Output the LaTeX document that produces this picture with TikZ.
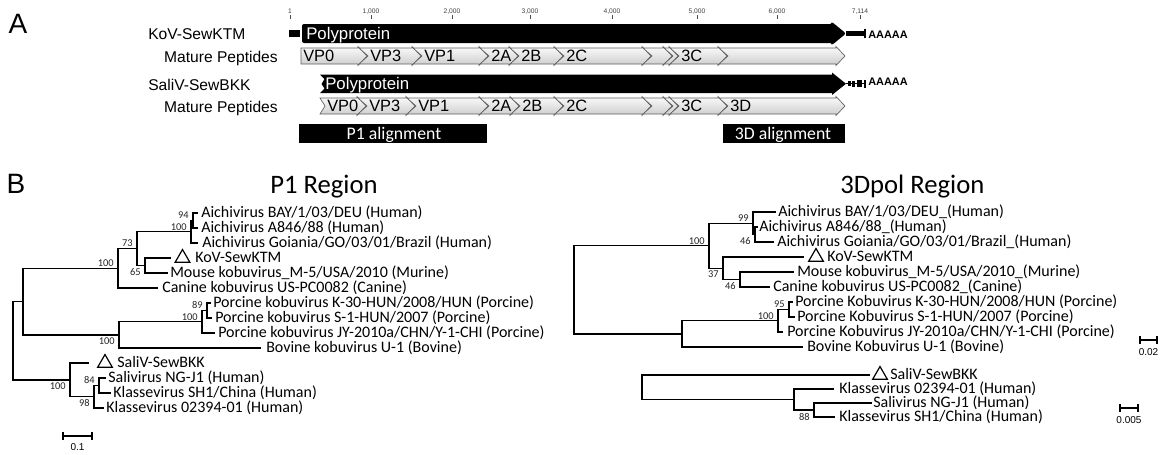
\documentclass[tikz,border=0pt]{standalone}
\usepackage{fontspec}
\setmainfont{Liberation Sans}
\newfontfamily\calib{Carlito}
\usetikzlibrary{shapes.geometric}
% peptide segment: #1 name, #2 left x, #3 tip x, #4 mid y, #5 notch depth, #6 label
\newcommand\pepseg[6]{%
  \path[pep] (#2,{#4-8}) -- ({#3-9},{#4-8}) -- ({#3-9},{#4-9.5}) -- (#3,#4) -- ({#3-9},{#4+9.5}) -- ({#3-9},{#4+8}) -- (#2,{#4+8}) -- ({#2+#5},#4) -- cycle;
  \node[peplab] (#1) at ({#2+#5+2},{#4+5.5}) {#6};}
\begin{document}
\begin{tikzpicture}[x=0.75pt,y=-0.75pt,
  tree/.style={line width=1pt,line cap=rect},
  lab/.style={font=\calib\fontsize{12}{14}\selectfont, anchor=base west, inner sep=0pt, yshift=-3.6pt},
  bt/.style={font=\calib\fontsize{7.8}{9}\selectfont, inner sep=0pt, text=black!85},
  btu/.style={bt, anchor=south east, xshift=-3pt, yshift=1pt},
  btd/.style={bt, anchor=north east, xshift=-3pt, yshift=-2pt},
  tri/.style={regular polygon, regular polygon sides=3, draw, line width=0.9pt, inner sep=0pt, minimum size=12.7pt},
  pep/.style={draw=gray!75!black, line width=0.5pt, top color=gray!3, bottom color=gray!40},
  peplab/.style={anchor=base west, inner sep=0pt, font=\fontsize{12.3}{14}\selectfont},
  gl/.style={inner sep=0pt, font=\fontsize{11.7}{13}\selectfont},
  pl/.style={inner sep=0pt, font=\fontsize{12.6}{14}\selectfont, text=white, anchor=base west},
  aaa/.style={inner sep=0pt, font=\bfseries\fontsize{8.2}{9}\selectfont, anchor=base west},
  tick/.style={inner sep=0pt, font=\fontsize{5}{6}\selectfont, text=black!75, anchor=base},
  title/.style={inner sep=0pt, font=\calib\fontsize{20}{24}\selectfont, anchor=base west},
  alab/.style={inner sep=0pt, font=\calib\fontsize{13.3}{15}\selectfont, text=white, anchor=base},
  sbl/.style={inner sep=0pt, font=\fontsize{7.5}{9}\selectfont, anchor=base}]
\useasboundingbox (0,0) rectangle (1161,454);

% ---------- Panel A ----------
\node[font=\fontsize{21}{24}\selectfont, anchor=base, inner sep=0pt] (lblA) at (18,33) {A};

\foreach \x/\t [count=\i] in {290/1, 371/{1,000}, 452/{2,000}, 530/{3,000}, 612/{4,000}, 697/{5,000}, 777/{6,000}, 860/{7,114}}{
  \node[tick] (tk\i) at (\x,13) {\t};
  \draw[line width=0.4pt, black!70] (\x,15) -- (\x,18.5);
}

% KoV row
\node[gl, anchor=base west] (kovname) at (148,39.5) {KoV-SewKTM};
\fill (289,30) rectangle (300,37);
\fill[rounded corners=1.5pt] (302,24) -- (832,24) -- (832,22) -- (846,33.5) -- (832,45) -- (832,43) -- (302,43) -- cycle;
\node[pl] (kovpoly) at (306,39.5) {Polyprotein};
\fill (846,31) rectangle (864,36);
\fill (863.5,29) rectangle (866,38);
\node[aaa] (kova) at (868,38.3) {AAAAA};

\node[gl, anchor=base east] (mp1) at (278,62) {Mature Peptides};
\pepseg{k1}{301}{367}{56}{0}{VP0}
\pepseg{k2}{359}{421}{56}{9}{VP3}
\pepseg{k3}{413}{488}{56}{9}{VP1}
\pepseg{k4}{480}{518}{56}{9}{2A}
\pepseg{k5}{510}{563}{56}{9}{2B}
\pepseg{k6}{555}{651}{56}{9}{2C}
\pepseg{k7}{643}{672}{56}{9}{}
\pepseg{k8}{664}{678}{56}{9}{}
\pepseg{k9}{670}{727}{56}{9}{3C}
\pepseg{k10}{719}{845}{56}{9}{}

% SaliV row
\node[gl, anchor=base west] (salname) at (148,90) {SaliV-SewBKK};
\fill (320,74.5) -- (832,74.5) -- (832,72.5) -- (846,83.75) -- (832,95) -- (832,93) -- (320,93) -- (324.5,88.5) -- (321.5,84) -- (324.5,79) -- cycle;
\node[pl] (salpoly) at (325,89.5) {Polyprotein};
\draw[line width=0.6pt] (846,83.5) -- (865,83.5);
\fill (848,81) rectangle (850.5,86);
\fill (852,80.5) rectangle (855,86.5);
\fill (856.5,80) rectangle (861.5,87);
\fill (863.5,79.5) rectangle (866,87.5);
\node[aaa] (sala) at (868,85.7) {AAAAA};

\node[gl, anchor=base east] (mp2) at (278,112) {Mature Peptides};
\pepseg{s1}{320}{366}{106}{5}{VP0}
\pepseg{s2}{358}{415}{106}{9}{VP3}
\pepseg{s3}{407}{488}{106}{9}{VP1}
\pepseg{s4}{480}{519}{106}{9}{2A}
\pepseg{s5}{511}{563}{106}{9}{2B}
\pepseg{s6}{555}{651}{106}{9}{2C}
\pepseg{s7}{643}{672}{106}{9}{}
\pepseg{s8}{664}{678}{106}{9}{}
\pepseg{s9}{670}{727}{106}{9}{3C}
\pepseg{s10}{719}{845}{106}{9}{3D}

% alignment bars
\fill (299,124) rectangle (487,143);
\node[alab] (p1al) at (394,139) {P1 alignment};
\fill (723,124) rectangle (845,143);
\node[alab] (d3al) at (783,139) {3D alignment};

% ---------- Panel B ----------
\node[font=\fontsize{21}{24}\selectfont, anchor=base, inner sep=0pt] (lblB) at (16,193) {B};
\node[title] (t1) at (270,193) {P1 Region};
\node[title] (t2) at (840,193) {3Dpol Region};

% ----- P1 tree -----
\coordinate (pBAY) at (197,213);
\coordinate (pA846) at (197,228);
\coordinate (pGoi) at (197,243);
\coordinate (pKoV) at (170,258);
\coordinate (pMou) at (167,273);
\coordinate (pCan) at (157,288);
\coordinate (pK30) at (210,303);
\coordinate (pS1) at (211,318);
\coordinate (pJY) at (214,333);
\coordinate (pBov) at (260,348);
\coordinate (pSal) at (88,363);
\coordinate (pSNG) at (105,378);
\coordinate (pSH1) at (110,393);
\coordinate (pK02) at (103,408);
\coordinate (p94) at (193,220.5);
\coordinate (p100a) at (191,231.75);
\coordinate (p65) at (145,265.5);
\coordinate (p73) at (137,248.6);
\coordinate (pA) at (118,268.3);
\coordinate (p89) at (207,310.5);
\coordinate (p100p) at (202,321.75);
\coordinate (pB) at (119,334.9);
\coordinate (pK) at (23,301.6);
\coordinate (p84) at (99,385.5);
\coordinate (p98) at (94,396.75);
\coordinate (pS) at (70,379.9);
\coordinate (proot) at (13,340.75);

\draw[tree] (p94) |- (pBAY) (p94) |- (pA846)
  (p100a) |- (p94) (p100a) |- (pGoi)
  (p65) |- (pKoV) (p65) |- (pMou)
  (p73) |- (p100a) (p73) |- (p65)
  (pA) |- (p73) (pA) |- (pCan)
  (p89) |- (pK30) (p89) |- (pS1)
  (p100p) |- (p89) (p100p) |- (pJY)
  (pB) |- (p100p) (pB) |- (pBov)
  (pK) |- (pA) (pK) |- (pB)
  (p84) |- (pSNG) (p84) |- (pSH1)
  (p98) |- (p84) (p98) |- (pK02)
  (pS) |- (pSal) (pS) |- (p98)
  (proot) |- (pK) (proot) |- (pS);

\node[tri] (triP1K) at (182.5,258) {};
\node[tri] (triP1S) at (105,363) {};

\node[lab] (lpBAY) at (201,213) {Aichivirus BAY/1/03/DEU (Human)};
\node[lab] (lpA846) at (201,228) {Aichivirus A846/88 (Human)};
\node[lab] (lpGoi) at (202,243) {Aichivirus Goiania/GO/03/01/Brazil (Human)};
\node[lab] (lpKoV) at (195,258) {KoV-SewKTM};
\node[lab] (lpMou) at (170,273) {Mouse kobuvirus\_M-5/USA/2010 (Murine)};
\node[lab] (lpCan) at (162,288) {Canine kobuvirus US-PC0082 (Canine)};
\node[lab] (lpK30) at (213,303) {Porcine kobuvirus K-30-HUN/2008/HUN (Porcine)};
\node[lab] (lpS1) at (215,318) {Porcine kobuvirus S-1-HUN/2007 (Porcine)};
\node[lab] (lpJY) at (218,333) {Porcine kobuvirus JY-2010a/CHN/Y-1-CHI (Porcine)};
\node[lab] (lpBov) at (266,348) {Bovine kobuvirus U-1 (Bovine)};
\node[lab] (lpSal) at (117,363) {SaliV-SewBKK};
\node[lab] (lpSNG) at (108,378) {Salivirus NG-J1 (Human)};
\node[lab] (lpSH1) at (113,393) {Klassevirus SH1/China (Human)};
\node[lab] (lpK02) at (106,408) {Klassevirus 02394-01 (Human)};

\node[btu] (bp94) at (p94) {94};
\node[btu] (bp100a) at (p100a) {100};
\node[btu] (bp73) at (p73) {73};
\node[btd] (bp65) at (p65) {65};
\node[btu] (bpA) at (pA) {100};
\node[btu] (bp89) at (p89) {89};
\node[btu] (bp100p) at (p100p) {100};
\node[btd] (bpB) at (pB) {100};
\node[btd] (bpS) at (pS) {100};
\node[btu] (bp84) at (p84) {84};
\node[btd] (bp98) at (p98) {98};

\coordinate (sb1a) at (63,436);
\coordinate (sb1b) at (92,436);
\draw[line width=0.9pt] (sb1a) -- (sb1b);
\draw[line width=0.9pt] ([yshift=3pt]sb1a) -- ([yshift=-3pt]sb1a) ([yshift=3pt]sb1b) -- ([yshift=-3pt]sb1b);
\node[sbl] (sbt1) at (77.5,450) {0.1};

% ----- 3Dpol tree -----
\coordinate (qBAY) at (775,212);
\coordinate (qA846) at (757,227);
\coordinate (qGoi) at (773,242);
\coordinate (qKoV) at (803,257);
\coordinate (qMou) at (793,272);
\coordinate (qCan) at (769,287);
\coordinate (qK30) at (792,302);
\coordinate (qS1) at (794,317);
\coordinate (qJY) at (782,332);
\coordinate (qBov) at (802,347);
\coordinate (q46a) at (755,234.5);
\coordinate (q99) at (753,223.25);
\coordinate (q46b) at (740,279.5);
\coordinate (q37) at (723,268.25);
\coordinate (q100) at (709,245.75);
\coordinate (q95) at (789,309.5);
\coordinate (q100p) at (778,320.75);
\coordinate (qPB) at (682,333.9);
\coordinate (qroot) at (574,289.8);

\draw[tree] (q46a) |- (qA846) (q46a) |- (qGoi)
  (q99) |- (qBAY) (q99) |- (q46a)
  (q46b) |- (qMou) (q46b) |- (qCan)
  (q37) |- (qKoV) (q37) |- (q46b)
  (q100) |- (q99) (q100) |- (q37)
  (q95) |- (qK30) (q95) |- (qS1)
  (q100p) |- (q95) (q100p) |- (qJY)
  (qPB) |- (q100p) (qPB) |- (qBov)
  (qroot) |- (q100) (qroot) |- (qPB);

\coordinate (qSal) at (869,375);
\coordinate (qK02) at (833,389);
\coordinate (qSNG) at (871,403);
\coordinate (qSH1) at (834,417);
\coordinate (q88) at (814,410);
\coordinate (qmid) at (794,399.5);
\coordinate (qsroot) at (642,387.25);
\draw[tree] (q88) |- (qSNG) (q88) |- (qSH1)
  (qmid) |- (qK02) (qmid) |- (q88)
  (qsroot) |- (qSal) (qsroot) |- (qmid);

\node[tri] (triDK) at (816,257) {};
\node[tri] (triDS) at (880,375) {};

\node[lab] (lqBAY) at (778,212) {Aichivirus BAY/1/03/DEU\_(Human)};
\node[lab] (lqA846) at (759,227) {Aichivirus A846/88\_(Human)};
\node[lab] (lqGoi) at (777,242) {Aichivirus Goiania/GO/03/01/Brazil\_(Human)};
\node[lab] (lqKoV) at (827,257) {KoV-SewKTM};
\node[lab] (lqMou) at (797,272) {Mouse kobuvirus\_M-5/USA/2010\_(Murine)};
\node[lab] (lqCan) at (773,287) {Canine kobuvirus US-PC0082\_(Canine)};
\node[lab] (lqK30) at (795,302) {Porcine Kobuvirus K-30-HUN/2008/HUN (Porcine)};
\node[lab] (lqS1) at (797,317) {Porcine Kobuvirus S-1-HUN/2007 (Porcine)};
\node[lab] (lqJY) at (787,332) {Porcine Kobuvirus JY-2010a/CHN/Y-1-CHI (Porcine)};
\node[lab] (lqBov) at (807,347) {Bovine Kobuvirus U-1 (Bovine)};
\node[lab] (lqSal) at (890,375) {SaliV-SewBKK};
\node[lab] (lqK02) at (839,389) {Klassevirus 02394-01 (Human)};
\node[lab] (lqSNG) at (873,403) {Salivirus NG-J1 (Human)};
\node[lab] (lqSH1) at (839,417) {Klassevirus SH1/China (Human)};

\node[btu] (bq99) at (q99) {99};
\node[btu] (bq100) at (q100) {100};
\node[btd] (bq46a) at (q46a) {46};
\node[btd] (bq37) at (q37) {37};
\node[btd] (bq46b) at (q46b) {46};
\node[btu] (bq95) at (q95) {95};
\node[btu] (bq100p) at (q100p) {100};
\node[btd] (bq88) at (q88) {88};

\coordinate (sb2a) at (1140,340);
\coordinate (sb2b) at (1157,340);
\draw[line width=0.9pt] (sb2a) -- (sb2b);
\draw[line width=0.9pt] ([yshift=3pt]sb2a) -- ([yshift=-3pt]sb2a) ([yshift=3pt]sb2b) -- ([yshift=-3pt]sb2b);
\node[sbl] (sbt2) at (1148.5,355) {0.02};

\coordinate (sb3a) at (1120,408);
\coordinate (sb3b) at (1138,408);
\draw[line width=0.9pt] (sb3a) -- (sb3b);
\draw[line width=0.9pt] ([yshift=3pt]sb3a) -- ([yshift=-3pt]sb3a) ([yshift=3pt]sb3b) -- ([yshift=-3pt]sb3b);
\node[sbl] (sbt3) at (1129,423) {0.005};
\end{tikzpicture}
\end{document}
